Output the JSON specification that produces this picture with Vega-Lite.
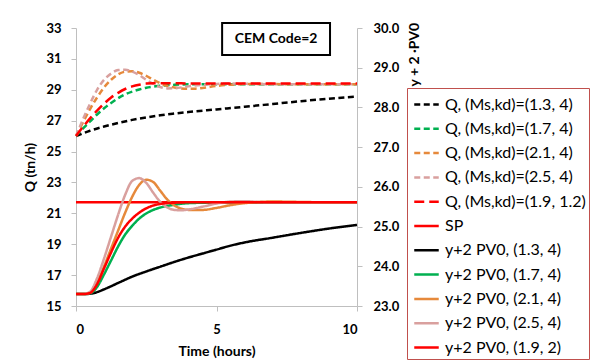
{
  "$schema": "https://vega.github.io/schema/vega-lite/v6.json",
  "width": 281,
  "height": 278,
  "autosize": {"type": "none"},
  "padding": {"left": 76, "top": 28, "right": 240, "bottom": 54},
  "background": "white",
  "config": {
    "view": {"stroke": null},
    "font": "Lato",
    "axis": {
      "grid": false,
      "domainColor": "#bfbfbf",
      "tickColor": "#bfbfbf",
      "tickSize": 5,
      "labelOverlap": false,
      "labelFont": "Lato",
      "labelFontSize": 13,
      "labelFontWeight": "bold",
      "labelColor": "black",
      "titleFont": "Lato",
      "titleFontSize": 14,
      "titleFontWeight": "bold",
      "titleColor": "black"
    },
    "legend": {
      "orient": "none",
      "legendX": 331,
      "legendY": 60,
      "title": null,
      "symbolType": "stroke",
      "symbolSize": 600,
      "symbolOffset": 3,
      "labelFont": "Lato",
      "labelFontSize": 16,
      "labelColor": "black",
      "labelLimit": 300,
      "labelOffset": 5,
      "rowPadding": 2.3,
      "strokeColor": "#c0504d",
      "fillColor": "white",
      "padding": 3
    }
  },
  "datasets": {
    "q": [
      {"s": "Q, (Ms,kd)=(1.3, 4)", "t": 0, "v": 26.0},
      {"s": "Q, (Ms,kd)=(1.3, 4)", "t": 0.5, "v": 26.35},
      {"s": "Q, (Ms,kd)=(1.3, 4)", "t": 1, "v": 26.62},
      {"s": "Q, (Ms,kd)=(1.3, 4)", "t": 1.5, "v": 26.85},
      {"s": "Q, (Ms,kd)=(1.3, 4)", "t": 2, "v": 27.05},
      {"s": "Q, (Ms,kd)=(1.3, 4)", "t": 2.5, "v": 27.21},
      {"s": "Q, (Ms,kd)=(1.3, 4)", "t": 3, "v": 27.35},
      {"s": "Q, (Ms,kd)=(1.3, 4)", "t": 3.5, "v": 27.46},
      {"s": "Q, (Ms,kd)=(1.3, 4)", "t": 4, "v": 27.56},
      {"s": "Q, (Ms,kd)=(1.3, 4)", "t": 5, "v": 27.73},
      {"s": "Q, (Ms,kd)=(1.3, 4)", "t": 6, "v": 27.9},
      {"s": "Q, (Ms,kd)=(1.3, 4)", "t": 7, "v": 28.08},
      {"s": "Q, (Ms,kd)=(1.3, 4)", "t": 8, "v": 28.26},
      {"s": "Q, (Ms,kd)=(1.3, 4)", "t": 9, "v": 28.42},
      {"s": "Q, (Ms,kd)=(1.3, 4)", "t": 10, "v": 28.56},

      {"s": "Q, (Ms,kd)=(1.7, 4)", "t": 0, "v": 26.0},
      {"s": "Q, (Ms,kd)=(1.7, 4)", "t": 0.25, "v": 26.5},
      {"s": "Q, (Ms,kd)=(1.7, 4)", "t": 0.5, "v": 26.95},
      {"s": "Q, (Ms,kd)=(1.7, 4)", "t": 0.75, "v": 27.4},
      {"s": "Q, (Ms,kd)=(1.7, 4)", "t": 1, "v": 27.8},
      {"s": "Q, (Ms,kd)=(1.7, 4)", "t": 1.25, "v": 28.15},
      {"s": "Q, (Ms,kd)=(1.7, 4)", "t": 1.5, "v": 28.45},
      {"s": "Q, (Ms,kd)=(1.7, 4)", "t": 1.75, "v": 28.7},
      {"s": "Q, (Ms,kd)=(1.7, 4)", "t": 2, "v": 28.88},
      {"s": "Q, (Ms,kd)=(1.7, 4)", "t": 2.25, "v": 29.02},
      {"s": "Q, (Ms,kd)=(1.7, 4)", "t": 2.5, "v": 29.13},
      {"s": "Q, (Ms,kd)=(1.7, 4)", "t": 2.75, "v": 29.2},
      {"s": "Q, (Ms,kd)=(1.7, 4)", "t": 3, "v": 29.26},
      {"s": "Q, (Ms,kd)=(1.7, 4)", "t": 3.5, "v": 29.32},
      {"s": "Q, (Ms,kd)=(1.7, 4)", "t": 4, "v": 29.35},
      {"s": "Q, (Ms,kd)=(1.7, 4)", "t": 5, "v": 29.36},
      {"s": "Q, (Ms,kd)=(1.7, 4)", "t": 6, "v": 29.36},
      {"s": "Q, (Ms,kd)=(1.7, 4)", "t": 8, "v": 29.36},
      {"s": "Q, (Ms,kd)=(1.7, 4)", "t": 10, "v": 29.36},

      {"s": "Q, (Ms,kd)=(2.1, 4)", "t": 0, "v": 26.0},
      {"s": "Q, (Ms,kd)=(2.1, 4)", "t": 0.25, "v": 26.9},
      {"s": "Q, (Ms,kd)=(2.1, 4)", "t": 0.5, "v": 27.75},
      {"s": "Q, (Ms,kd)=(2.1, 4)", "t": 0.75, "v": 28.5},
      {"s": "Q, (Ms,kd)=(2.1, 4)", "t": 1, "v": 29.15},
      {"s": "Q, (Ms,kd)=(2.1, 4)", "t": 1.25, "v": 29.65},
      {"s": "Q, (Ms,kd)=(2.1, 4)", "t": 1.5, "v": 30.0},
      {"s": "Q, (Ms,kd)=(2.1, 4)", "t": 1.75, "v": 30.17},
      {"s": "Q, (Ms,kd)=(2.1, 4)", "t": 2, "v": 30.2},
      {"s": "Q, (Ms,kd)=(2.1, 4)", "t": 2.25, "v": 30.1},
      {"s": "Q, (Ms,kd)=(2.1, 4)", "t": 2.5, "v": 29.9},
      {"s": "Q, (Ms,kd)=(2.1, 4)", "t": 2.75, "v": 29.65},
      {"s": "Q, (Ms,kd)=(2.1, 4)", "t": 3, "v": 29.42},
      {"s": "Q, (Ms,kd)=(2.1, 4)", "t": 3.25, "v": 29.25},
      {"s": "Q, (Ms,kd)=(2.1, 4)", "t": 3.5, "v": 29.15},
      {"s": "Q, (Ms,kd)=(2.1, 4)", "t": 3.75, "v": 29.08},
      {"s": "Q, (Ms,kd)=(2.1, 4)", "t": 4, "v": 29.06},
      {"s": "Q, (Ms,kd)=(2.1, 4)", "t": 4.25, "v": 29.07},
      {"s": "Q, (Ms,kd)=(2.1, 4)", "t": 4.5, "v": 29.12},
      {"s": "Q, (Ms,kd)=(2.1, 4)", "t": 5, "v": 29.25},
      {"s": "Q, (Ms,kd)=(2.1, 4)", "t": 5.5, "v": 29.33},
      {"s": "Q, (Ms,kd)=(2.1, 4)", "t": 6, "v": 29.37},
      {"s": "Q, (Ms,kd)=(2.1, 4)", "t": 6.5, "v": 29.38},
      {"s": "Q, (Ms,kd)=(2.1, 4)", "t": 7, "v": 29.37},
      {"s": "Q, (Ms,kd)=(2.1, 4)", "t": 8, "v": 29.36},
      {"s": "Q, (Ms,kd)=(2.1, 4)", "t": 10, "v": 29.36},

      {"s": "Q, (Ms,kd)=(2.5, 4)", "t": 0, "v": 26.0},
      {"s": "Q, (Ms,kd)=(2.5, 4)", "t": 0.25, "v": 27.1},
      {"s": "Q, (Ms,kd)=(2.5, 4)", "t": 0.5, "v": 28.1},
      {"s": "Q, (Ms,kd)=(2.5, 4)", "t": 0.75, "v": 29.0},
      {"s": "Q, (Ms,kd)=(2.5, 4)", "t": 1, "v": 29.65},
      {"s": "Q, (Ms,kd)=(2.5, 4)", "t": 1.25, "v": 30.05},
      {"s": "Q, (Ms,kd)=(2.5, 4)", "t": 1.5, "v": 30.28},
      {"s": "Q, (Ms,kd)=(2.5, 4)", "t": 1.75, "v": 30.3},
      {"s": "Q, (Ms,kd)=(2.5, 4)", "t": 2, "v": 30.18},
      {"s": "Q, (Ms,kd)=(2.5, 4)", "t": 2.25, "v": 29.95},
      {"s": "Q, (Ms,kd)=(2.5, 4)", "t": 2.5, "v": 29.65},
      {"s": "Q, (Ms,kd)=(2.5, 4)", "t": 2.75, "v": 29.38},
      {"s": "Q, (Ms,kd)=(2.5, 4)", "t": 3, "v": 29.18},
      {"s": "Q, (Ms,kd)=(2.5, 4)", "t": 3.25, "v": 29.09},
      {"s": "Q, (Ms,kd)=(2.5, 4)", "t": 3.5, "v": 29.1},
      {"s": "Q, (Ms,kd)=(2.5, 4)", "t": 3.75, "v": 29.15},
      {"s": "Q, (Ms,kd)=(2.5, 4)", "t": 4, "v": 29.22},
      {"s": "Q, (Ms,kd)=(2.5, 4)", "t": 4.5, "v": 29.32},
      {"s": "Q, (Ms,kd)=(2.5, 4)", "t": 5, "v": 29.38},
      {"s": "Q, (Ms,kd)=(2.5, 4)", "t": 5.5, "v": 29.4},
      {"s": "Q, (Ms,kd)=(2.5, 4)", "t": 6, "v": 29.39},
      {"s": "Q, (Ms,kd)=(2.5, 4)", "t": 7, "v": 29.36},
      {"s": "Q, (Ms,kd)=(2.5, 4)", "t": 8, "v": 29.36},
      {"s": "Q, (Ms,kd)=(2.5, 4)", "t": 10, "v": 29.36},

      {"s": "Q, (Ms,kd)=(1.9, 1.2)", "t": 0, "v": 26.0},
      {"s": "Q, (Ms,kd)=(1.9, 1.2)", "t": 0.25, "v": 26.6},
      {"s": "Q, (Ms,kd)=(1.9, 1.2)", "t": 0.5, "v": 27.15},
      {"s": "Q, (Ms,kd)=(1.9, 1.2)", "t": 0.75, "v": 27.65},
      {"s": "Q, (Ms,kd)=(1.9, 1.2)", "t": 1, "v": 28.1},
      {"s": "Q, (Ms,kd)=(1.9, 1.2)", "t": 1.25, "v": 28.5},
      {"s": "Q, (Ms,kd)=(1.9, 1.2)", "t": 1.5, "v": 28.8},
      {"s": "Q, (Ms,kd)=(1.9, 1.2)", "t": 1.75, "v": 29.05},
      {"s": "Q, (Ms,kd)=(1.9, 1.2)", "t": 2, "v": 29.22},
      {"s": "Q, (Ms,kd)=(1.9, 1.2)", "t": 2.25, "v": 29.33},
      {"s": "Q, (Ms,kd)=(1.9, 1.2)", "t": 2.5, "v": 29.4},
      {"s": "Q, (Ms,kd)=(1.9, 1.2)", "t": 2.75, "v": 29.43},
      {"s": "Q, (Ms,kd)=(1.9, 1.2)", "t": 3, "v": 29.43},
      {"s": "Q, (Ms,kd)=(1.9, 1.2)", "t": 3.5, "v": 29.42},
      {"s": "Q, (Ms,kd)=(1.9, 1.2)", "t": 4, "v": 29.41},
      {"s": "Q, (Ms,kd)=(1.9, 1.2)", "t": 5, "v": 29.4},
      {"s": "Q, (Ms,kd)=(1.9, 1.2)", "t": 6, "v": 29.4},
      {"s": "Q, (Ms,kd)=(1.9, 1.2)", "t": 8, "v": 29.4},
      {"s": "Q, (Ms,kd)=(1.9, 1.2)", "t": 10, "v": 29.4}
    ],
    "pv": [
      {"s": "SP", "t": 0, "v": 25.61},
      {"s": "SP", "t": 10, "v": 25.61},

      {"s": "y+2 PV0, (1.3, 4)", "t": 0, "v": 23.3},
      {"s": "y+2 PV0, (1.3, 4)", "t": 0.25, "v": 23.3},
      {"s": "y+2 PV0, (1.3, 4)", "t": 0.5, "v": 23.31},
      {"s": "y+2 PV0, (1.3, 4)", "t": 0.75, "v": 23.35},
      {"s": "y+2 PV0, (1.3, 4)", "t": 1, "v": 23.42},
      {"s": "y+2 PV0, (1.3, 4)", "t": 1.5, "v": 23.58},
      {"s": "y+2 PV0, (1.3, 4)", "t": 2, "v": 23.74},
      {"s": "y+2 PV0, (1.3, 4)", "t": 2.5, "v": 23.87},
      {"s": "y+2 PV0, (1.3, 4)", "t": 3, "v": 23.99},
      {"s": "y+2 PV0, (1.3, 4)", "t": 3.5, "v": 24.11},
      {"s": "y+2 PV0, (1.3, 4)", "t": 4, "v": 24.22},
      {"s": "y+2 PV0, (1.3, 4)", "t": 4.5, "v": 24.32},
      {"s": "y+2 PV0, (1.3, 4)", "t": 5, "v": 24.42},
      {"s": "y+2 PV0, (1.3, 4)", "t": 5.5, "v": 24.52},
      {"s": "y+2 PV0, (1.3, 4)", "t": 6, "v": 24.6},
      {"s": "y+2 PV0, (1.3, 4)", "t": 7, "v": 24.72},
      {"s": "y+2 PV0, (1.3, 4)", "t": 8, "v": 24.84},
      {"s": "y+2 PV0, (1.3, 4)", "t": 9, "v": 24.95},
      {"s": "y+2 PV0, (1.3, 4)", "t": 10, "v": 25.04},

      {"s": "y+2 PV0, (1.7, 4)", "t": 0, "v": 23.3},
      {"s": "y+2 PV0, (1.7, 4)", "t": 0.25, "v": 23.3},
      {"s": "y+2 PV0, (1.7, 4)", "t": 0.5, "v": 23.32},
      {"s": "y+2 PV0, (1.7, 4)", "t": 0.75, "v": 23.48},
      {"s": "y+2 PV0, (1.7, 4)", "t": 1, "v": 23.8},
      {"s": "y+2 PV0, (1.7, 4)", "t": 1.25, "v": 24.15},
      {"s": "y+2 PV0, (1.7, 4)", "t": 1.5, "v": 24.5},
      {"s": "y+2 PV0, (1.7, 4)", "t": 1.75, "v": 24.8},
      {"s": "y+2 PV0, (1.7, 4)", "t": 2, "v": 25.02},
      {"s": "y+2 PV0, (1.7, 4)", "t": 2.25, "v": 25.2},
      {"s": "y+2 PV0, (1.7, 4)", "t": 2.5, "v": 25.33},
      {"s": "y+2 PV0, (1.7, 4)", "t": 2.75, "v": 25.42},
      {"s": "y+2 PV0, (1.7, 4)", "t": 3, "v": 25.48},
      {"s": "y+2 PV0, (1.7, 4)", "t": 3.5, "v": 25.55},
      {"s": "y+2 PV0, (1.7, 4)", "t": 4, "v": 25.59},
      {"s": "y+2 PV0, (1.7, 4)", "t": 4.5, "v": 25.6},
      {"s": "y+2 PV0, (1.7, 4)", "t": 5, "v": 25.61},
      {"s": "y+2 PV0, (1.7, 4)", "t": 10, "v": 25.61},

      {"s": "y+2 PV0, (2.1, 4)", "t": 0, "v": 23.3},
      {"s": "y+2 PV0, (2.1, 4)", "t": 0.25, "v": 23.3},
      {"s": "y+2 PV0, (2.1, 4)", "t": 0.5, "v": 23.34},
      {"s": "y+2 PV0, (2.1, 4)", "t": 0.75, "v": 23.6},
      {"s": "y+2 PV0, (2.1, 4)", "t": 1, "v": 24.0},
      {"s": "y+2 PV0, (2.1, 4)", "t": 1.25, "v": 24.45},
      {"s": "y+2 PV0, (2.1, 4)", "t": 1.5, "v": 24.9},
      {"s": "y+2 PV0, (2.1, 4)", "t": 1.75, "v": 25.35},
      {"s": "y+2 PV0, (2.1, 4)", "t": 2, "v": 25.75},
      {"s": "y+2 PV0, (2.1, 4)", "t": 2.25, "v": 26.05},
      {"s": "y+2 PV0, (2.1, 4)", "t": 2.5, "v": 26.18},
      {"s": "y+2 PV0, (2.1, 4)", "t": 2.75, "v": 26.12},
      {"s": "y+2 PV0, (2.1, 4)", "t": 3, "v": 25.9},
      {"s": "y+2 PV0, (2.1, 4)", "t": 3.25, "v": 25.68},
      {"s": "y+2 PV0, (2.1, 4)", "t": 3.5, "v": 25.53},
      {"s": "y+2 PV0, (2.1, 4)", "t": 3.75, "v": 25.45},
      {"s": "y+2 PV0, (2.1, 4)", "t": 4, "v": 25.42},
      {"s": "y+2 PV0, (2.1, 4)", "t": 4.5, "v": 25.42},
      {"s": "y+2 PV0, (2.1, 4)", "t": 5, "v": 25.47},
      {"s": "y+2 PV0, (2.1, 4)", "t": 5.5, "v": 25.54},
      {"s": "y+2 PV0, (2.1, 4)", "t": 6, "v": 25.59},
      {"s": "y+2 PV0, (2.1, 4)", "t": 6.5, "v": 25.62},
      {"s": "y+2 PV0, (2.1, 4)", "t": 7, "v": 25.63},
      {"s": "y+2 PV0, (2.1, 4)", "t": 8, "v": 25.62},
      {"s": "y+2 PV0, (2.1, 4)", "t": 9, "v": 25.61},
      {"s": "y+2 PV0, (2.1, 4)", "t": 10, "v": 25.61},

      {"s": "y+2 PV0, (2.5, 4)", "t": 0, "v": 23.3},
      {"s": "y+2 PV0, (2.5, 4)", "t": 0.25, "v": 23.3},
      {"s": "y+2 PV0, (2.5, 4)", "t": 0.5, "v": 23.36},
      {"s": "y+2 PV0, (2.5, 4)", "t": 0.75, "v": 23.7},
      {"s": "y+2 PV0, (2.5, 4)", "t": 1, "v": 24.2},
      {"s": "y+2 PV0, (2.5, 4)", "t": 1.25, "v": 24.75},
      {"s": "y+2 PV0, (2.5, 4)", "t": 1.5, "v": 25.3},
      {"s": "y+2 PV0, (2.5, 4)", "t": 1.75, "v": 25.8},
      {"s": "y+2 PV0, (2.5, 4)", "t": 2, "v": 26.15},
      {"s": "y+2 PV0, (2.5, 4)", "t": 2.25, "v": 26.22},
      {"s": "y+2 PV0, (2.5, 4)", "t": 2.5, "v": 26.1},
      {"s": "y+2 PV0, (2.5, 4)", "t": 2.75, "v": 25.85},
      {"s": "y+2 PV0, (2.5, 4)", "t": 3, "v": 25.62},
      {"s": "y+2 PV0, (2.5, 4)", "t": 3.25, "v": 25.48},
      {"s": "y+2 PV0, (2.5, 4)", "t": 3.5, "v": 25.42},
      {"s": "y+2 PV0, (2.5, 4)", "t": 3.75, "v": 25.41},
      {"s": "y+2 PV0, (2.5, 4)", "t": 4, "v": 25.43},
      {"s": "y+2 PV0, (2.5, 4)", "t": 4.5, "v": 25.5},
      {"s": "y+2 PV0, (2.5, 4)", "t": 5, "v": 25.58},
      {"s": "y+2 PV0, (2.5, 4)", "t": 5.5, "v": 25.63},
      {"s": "y+2 PV0, (2.5, 4)", "t": 6, "v": 25.64},
      {"s": "y+2 PV0, (2.5, 4)", "t": 6.5, "v": 25.62},
      {"s": "y+2 PV0, (2.5, 4)", "t": 7, "v": 25.61},
      {"s": "y+2 PV0, (2.5, 4)", "t": 10, "v": 25.61},

      {"s": "y+2 PV0, (1.9, 2)", "t": 0, "v": 23.3},
      {"s": "y+2 PV0, (1.9, 2)", "t": 0.25, "v": 23.3},
      {"s": "y+2 PV0, (1.9, 2)", "t": 0.5, "v": 23.33},
      {"s": "y+2 PV0, (1.9, 2)", "t": 0.75, "v": 23.55},
      {"s": "y+2 PV0, (1.9, 2)", "t": 1, "v": 23.95},
      {"s": "y+2 PV0, (1.9, 2)", "t": 1.25, "v": 24.35},
      {"s": "y+2 PV0, (1.9, 2)", "t": 1.5, "v": 24.72},
      {"s": "y+2 PV0, (1.9, 2)", "t": 1.75, "v": 25.0},
      {"s": "y+2 PV0, (1.9, 2)", "t": 2, "v": 25.2},
      {"s": "y+2 PV0, (1.9, 2)", "t": 2.25, "v": 25.35},
      {"s": "y+2 PV0, (1.9, 2)", "t": 2.5, "v": 25.46},
      {"s": "y+2 PV0, (1.9, 2)", "t": 2.75, "v": 25.53},
      {"s": "y+2 PV0, (1.9, 2)", "t": 3, "v": 25.57},
      {"s": "y+2 PV0, (1.9, 2)", "t": 3.5, "v": 25.6},
      {"s": "y+2 PV0, (1.9, 2)", "t": 4, "v": 25.61},
      {"s": "y+2 PV0, (1.9, 2)", "t": 10, "v": 25.61}
    ]
  },
  "layer": [
    {
      "data": {"name": "q"},
      "mark": {"type": "line", "interpolate": "monotone", "strokeCap": "butt"},
      "encoding": {
        "x": {
          "field": "t", "type": "quantitative",
          "scale": {"domain": [0, 10], "nice": false, "zero": false},
          "axis": {"values": [0, 5, 10], "title": "Time (hours)", "labelOverlap": false, "labelPadding": 12, "titlePadding": 8}
        },
        "y": {
          "field": "v", "type": "quantitative",
          "scale": {"domain": [15, 33], "nice": false, "zero": false},
          "axis": {"orient": "left", "values": [15, 17, 19, 21, 23, 25, 27, 29, 31, 33], "labelOverlap": false, "title": "Q (tn/h)", "labelPadding": 10, "titlePadding": 8}
        },
        "color": {"field": "s", "type": "nominal", "scale": {"domain": ["Q, (Ms,kd)=(1.3, 4)", "Q, (Ms,kd)=(1.7, 4)", "Q, (Ms,kd)=(2.1, 4)", "Q, (Ms,kd)=(2.5, 4)", "Q, (Ms,kd)=(1.9, 1.2)", "SP", "y+2 PV0, (1.3, 4)", "y+2 PV0, (1.7, 4)", "y+2 PV0, (2.1, 4)", "y+2 PV0, (2.5, 4)", "y+2 PV0, (1.9, 2)"], "range": ["#000000", "#00b050", "#e6893b", "#d9a09e", "#ff0000", "#ff0000", "#000000", "#00b050", "#e6893b", "#d9a09e", "#ff0000"]}},
        "strokeDash": {"field": "s", "type": "nominal", "scale": {"domain": ["Q, (Ms,kd)=(1.3, 4)", "Q, (Ms,kd)=(1.7, 4)", "Q, (Ms,kd)=(2.1, 4)", "Q, (Ms,kd)=(2.5, 4)", "Q, (Ms,kd)=(1.9, 1.2)", "SP", "y+2 PV0, (1.3, 4)", "y+2 PV0, (1.7, 4)", "y+2 PV0, (2.1, 4)", "y+2 PV0, (2.5, 4)", "y+2 PV0, (1.9, 2)"], "range": [[6, 3.5], [6, 3.5], [6, 3.5], [6, 3.5], [10, 5], [1, 0], [1, 0], [1, 0], [1, 0], [1, 0], [1, 0]]}},
        "strokeWidth": {"field": "s", "type": "nominal", "scale": {"domain": ["Q, (Ms,kd)=(1.3, 4)", "Q, (Ms,kd)=(1.7, 4)", "Q, (Ms,kd)=(2.1, 4)", "Q, (Ms,kd)=(2.5, 4)", "Q, (Ms,kd)=(1.9, 1.2)", "SP", "y+2 PV0, (1.3, 4)", "y+2 PV0, (1.7, 4)", "y+2 PV0, (2.1, 4)", "y+2 PV0, (2.5, 4)", "y+2 PV0, (1.9, 2)"], "range": [2.5, 2.5, 2.5, 2.5, 2.5, 1.2, 2.5, 2.5, 2.5, 2.5, 2.5]}}
      }
    },
    {
      "data": {"name": "pv"},
      "mark": {"type": "line", "interpolate": "monotone", "strokeCap": "butt"},
      "encoding": {
        "x": {"field": "t", "type": "quantitative", "scale": {"domain": [0, 10], "nice": false, "zero": false}},
        "y": {
          "field": "v", "type": "quantitative",
          "scale": {"domain": [23, 30], "nice": false, "zero": false},
          "axis": {"orient": "right", "values": [23, 24, 25, 26, 27, 28, 29, 30], "format": ".1f", "labelOverlap": false, "labelPadding": 11, "title": "y + 2 ·PV0", "titleAngle": 270, "titleAlign": "left", "titleBaseline": "middle", "titleX": 57, "titleY": 58}
        },
        "color": {"field": "s", "type": "nominal"},
        "strokeDash": {"field": "s", "type": "nominal"},
        "strokeWidth": {"field": "s", "type": "nominal"}
      }
    },
    {
      "data": {"values": [{"label": "CEM Code=2"}]},
      "layer": [
        {
          "mark": {"type": "rect", "fill": "white", "stroke": "black", "strokeWidth": 2},
          "encoding": {
            "x": {"datum": 5.2, "type": "quantitative"},
            "x2": {"datum": 9.04},
            "y": {"datum": 33.32, "type": "quantitative", "scale": {"domain": [15, 33], "nice": false, "zero": false}, "axis": null},
            "y2": {"datum": 31.25}
          }
        },
        {
          "mark": {"type": "text", "font": "Lato", "fontSize": 14, "fontWeight": "bold", "color": "black", "align": "center", "baseline": "middle"},
          "encoding": {
            "x": {"datum": 7.12, "type": "quantitative"},
            "y": {"datum": 32.29, "type": "quantitative", "axis": null},
            "text": {"field": "label"}
          }
        }
      ]
    }
  ],
  "resolve": {"scale": {"y": "independent"}}
}
